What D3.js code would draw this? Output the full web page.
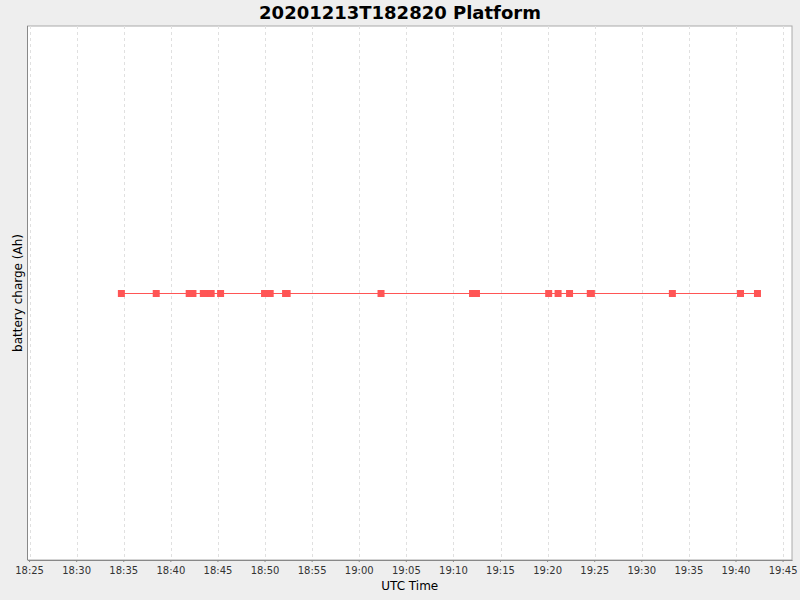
<!DOCTYPE html>
<html>
<head>
<meta charset="utf-8">
<script src="https://cdn.jsdelivr.net/npm/d3@7"></script>
<style>
  body { margin: 0; background: #eeeeee; }
  svg { display: block; font-family: "DejaVu Sans", sans-serif; }
</style>
</head>
<body>
<div id="chart"></div>
<script>
// sample times (UTC, 2020-12-13) and battery charge values
const times = [
  "18:34:48", "18:38:30", "18:42:00", "18:42:24", "18:43:30", "18:43:55",
  "18:44:20", "18:45:20", "18:50:00", "18:50:36", "18:52:14", "18:52:24",
  "19:02:22", "19:12:05", "19:12:30", "19:20:10", "19:21:10", "19:22:23",
  "19:24:35", "19:24:42", "19:33:18", "19:40:32", "19:42:20"
];
const charge = [
  0, 0, 0, 0, 0, 0,
  0, 0, 0, 0, 0, 0,
  0, 0, 0, 0, 0, 0,
  0, 0, 0, 0, 0
];
const xDomain = ["18:24:50", "19:46:00"];
const yDomain = [-1, 1];

const WIDTH = 800, HEIGHT = 600;
const MARGIN = { TOP: 26, BOTTOM: 40, LEFT: 27.5, RIGHT: 8 };
const W = WIDTH - MARGIN.LEFT - MARGIN.RIGHT;
const H = HEIGHT - MARGIN.TOP - MARGIN.BOTTOM;

const parse = d3.utcParse("%Y-%m-%d %H:%M:%S");
const day = "2020-12-13 ";
const data = times.map((t, i) => ({ t: parse(day + t), v: charge[i] }));

const svg = d3.select("#chart").append("svg")
  .attr("width", WIDTH)
  .attr("height", HEIGHT);

svg.append("rect")
  .attr("width", WIDTH).attr("height", HEIGHT)
  .attr("fill", "#eeeeee");

// title
svg.append("text")
  .attr("x", 400).attr("y", 19)
  .attr("text-anchor", "middle")
  .attr("font-size", 18)
  .attr("font-weight", "bold")
  .attr("fill", "#000")
  .text("20201213T182820 Platform");

const g = svg.append("g")
  .attr("transform", `translate(${MARGIN.LEFT},${MARGIN.TOP})`);

const x = d3.scaleUtc()
  .domain(xDomain.map(s => parse(day + s)))
  .range([0, W]);

const y = d3.scaleLinear()
  .domain(yDomain)
  .range([H, 0]);

// plot background
g.append("rect")
  .attr("width", W).attr("height", H)
  .attr("fill", "#ffffff")
  .attr("stroke", "#aaaaaa")
  .attr("stroke-width", 1);

const ticks = x.ticks(d3.utcMinute.every(5));

// vertical grid lines
g.append("g").selectAll("line")
  .data(ticks)
  .join("line")
  .attr("x1", d => Math.round(x(d)) + 0.5)
  .attr("x2", d => Math.round(x(d)) + 0.5)
  .attr("y1", 0).attr("y2", H)
  .attr("stroke", "#e0e0e0")
  .attr("stroke-dasharray", "3,3")
  .attr("shape-rendering", "crispEdges");

// x axis
const xAxis = g.append("g")
  .attr("transform", `translate(0,${H})`)
  .call(d3.axisBottom(x)
    .ticks(d3.utcMinute.every(5))
    .tickFormat(d3.utcFormat("%H:%M"))
    .tickSizeInner(2)
    .tickSizeOuter(0));
xAxis.select(".domain").attr("stroke", "#888888");
xAxis.selectAll(".tick line").attr("stroke", "#888888");
xAxis.selectAll(".tick text")
  .attr("font-size", 10)
  .attr("font-family", "DejaVu Sans, sans-serif")
  .attr("fill", "#333")
  .attr("dy", "0.9em");

// left axis line
g.append("line")
  .attr("x1", 0).attr("x2", 0)
  .attr("y1", 0).attr("y2", H)
  .attr("stroke", "#888888");

// axis labels
svg.append("text")
  .attr("x", MARGIN.LEFT + W / 2).attr("y", 590)
  .attr("text-anchor", "middle")
  .attr("font-size", 12)
  .attr("fill", "#000")
  .text("UTC Time");

svg.append("text")
  .attr("transform", `translate(22,${MARGIN.TOP + H / 2}) rotate(-90)`)
  .attr("text-anchor", "middle")
  .attr("font-size", 12)
  .attr("fill", "#000")
  .text("battery charge (Ah)");

// series line
const line = d3.line()
  .x(d => x(d.t))
  .y(d => y(d.v) + 0.5);

g.append("path")
  .datum(data)
  .attr("d", line)
  .attr("fill", "none")
  .attr("stroke", "#ff5555")
  .attr("stroke-width", 1)
  .attr("shape-rendering", "crispEdges");

// points
const S = 7;
g.append("g").selectAll("rect")
  .data(data)
  .join("rect")
  .attr("x", d => x(d.t) - S / 2)
  .attr("y", d => y(d.v) - S / 2 + 0.5)
  .attr("width", S).attr("height", S)
  .attr("fill", "#ff5555");
</script>
</body>
</html>
